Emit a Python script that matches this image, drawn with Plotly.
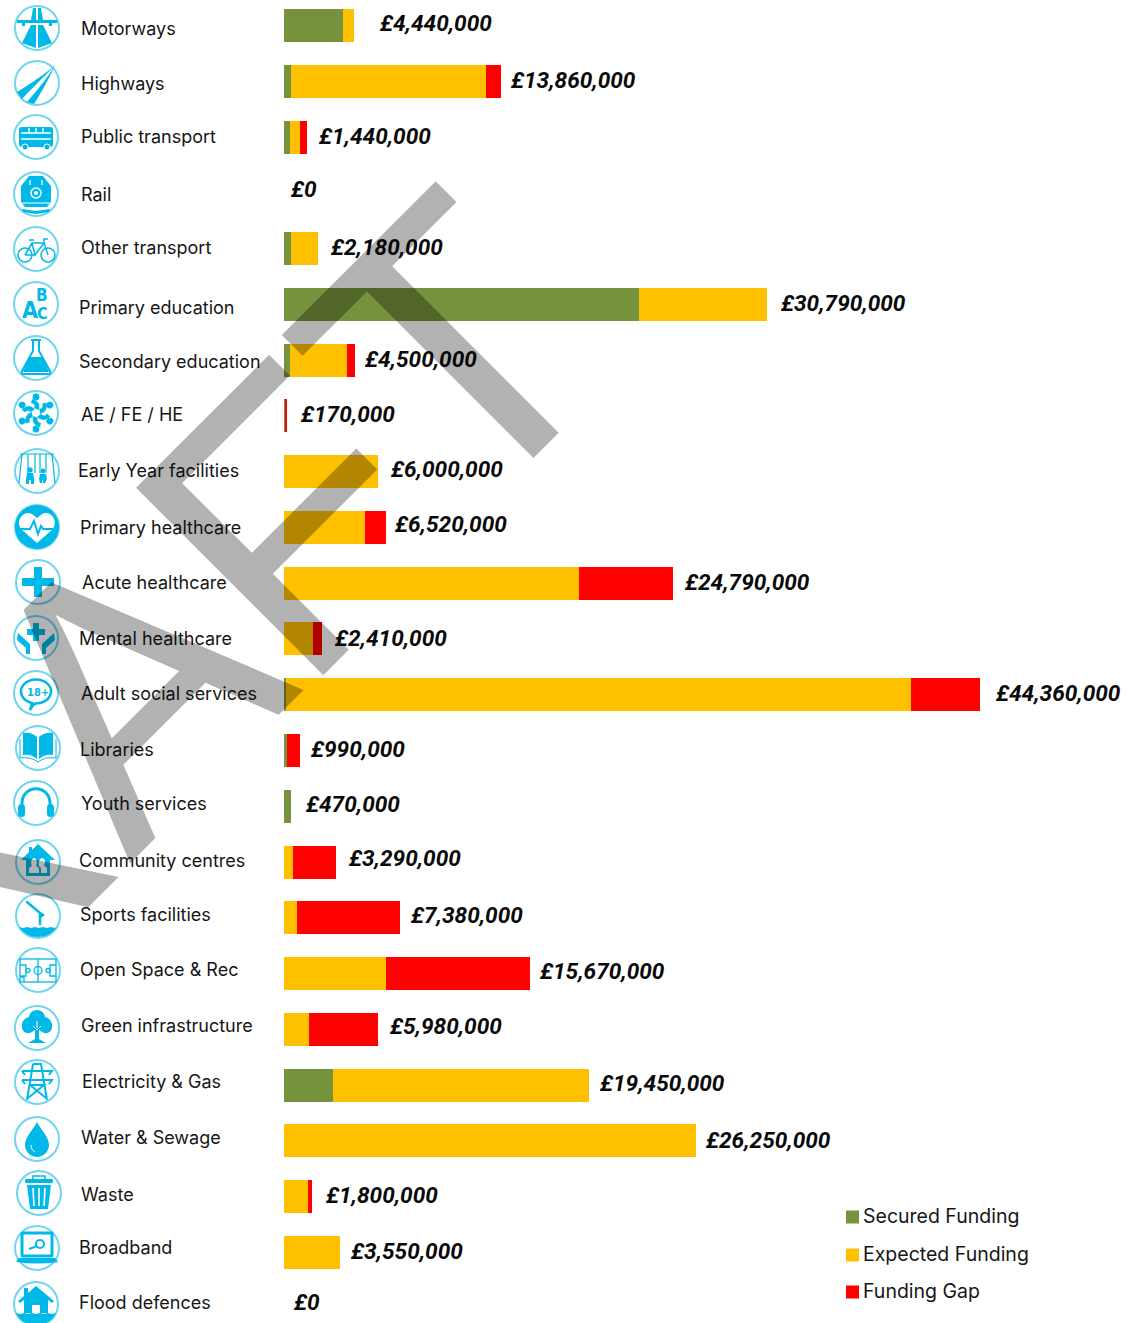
import base64
import plotly.graph_objects as go

# ---------- data ----------
categories = ["Motorways", "Highways", "Public transport", "Rail", "Other transport",
              "Primary education", "Secondary education", "AE / FE / HE", "Early Year facilities",
              "Primary healthcare", "Acute healthcare", "Mental healthcare", "Adult social services",
              "Libraries", "Youth services", "Community centres", "Sports facilities",
              "Open Space & Rec", "Green infrastructure", "Electricity & Gas", "Water & Sewage",
              "Waste", "Broadband", "Flood defences"]
secured = [3760000, 450000, 380000, 0, 420000, 22630000, 380000, 80000, 0, 0, 0, 0, 100000,
           200000, 470000, 0, 0, 0, 0, 3120000, 0, 0, 0, 0]
expected = [680000, 12410000, 640000, 0, 1760000, 8160000, 3630000, 0, 6000000, 5160000,
            18800000, 1850000, 39860000, 0, 0, 550000, 860000, 6500000, 1600000, 16330000,
            26250000, 1550000, 3550000, 0]
gap = [0, 1000000, 420000, 0, 0, 0, 490000, 90000, 0, 1360000, 5990000, 560000, 4400000,
       790000, 0, 2740000, 6520000, 9170000, 4380000, 0, 0, 250000, 0, 0]
series_names = ["Secured Funding", "Expected Funding", "Funding Gap"]
series_colors = ["#76923C", "#FFC000", "#FF0000"]

# ---------- layout helpers (pixels on the 1144x1323 page) ----------
W, H = 1144, 1323
PX_PER_POUND = 696 / 44360000
X0 = 284
ROW0, ROW = 25.5, 55.77
value_shift = [26, 10, 12, 7, 13, 14, 10, 14, 13, 9, 12, 13, 16, 11, 15, 13, 11, 10, 12, 11, 10, 14, 11, 10]
value_ypx = [23, 81, 137, 189, 247, 303, 359, 415, 469, 525, 582, 638, 693, 749, 805, 859, 915,
             971, 1027, 1083, 1140, 1195, 1251, 1302]
label_xpx = [81, 81, 81, 81, 81, 79, 79, 81, 78, 80, 82, 79, 81, 80, 81, 79, 80, 80, 81, 82, 81, 81, 79, 79]
label_ypx = [28, 83, 137, 194, 248, 307, 361, 414, 470, 527, 582, 638, 693, 749, 803, 860, 915,
             969, 1025, 1081, 1137, 1194, 1247, 1302]
icon_xpx = [37, 37, 36, 36, 36, 36, 36, 36, 37, 37, 38, 36, 36, 38, 36, 38, 38, 38, 37, 37, 37, 39, 37, 36]
icon_ypx = [28, 83, 137, 194, 249, 304, 358, 413, 471, 527, 582, 638, 693, 748, 803, 862, 916, 970,
            1028, 1082, 1139, 1193, 1248, 1304]

C = "#00B9E8"
RING = "#6FD6EF"
ICONS = {
 "Motorways": f'<path fill="{C}" d="M-6,-3H-1V20L-15,15Z M6,-3H1V20L15,15Z M-4,-20H-1V-8H-6Z M4,-20H1V-8H6Z"/><rect x="-20" y="-8" width="40" height="3" fill="{C}"/><rect x="-15" y="-5" width="3" height="3" fill="{C}"/><rect x="12" y="-5" width="3" height="3" fill="{C}"/>',
 "Highways": f'<path fill="{C}" d="M18,-18C8,-9 -8,2 -20,9L-15,16C-7,7 4,-3 18,-18Z M18,-18C10,-4 0,7 -10,19L-3,21C5,8 12,-4 18,-18Z"/>',
 "Public transport": f'<rect x="-17" y="-10" width="34" height="20" rx="3" fill="{C}"/><path stroke="#fff" stroke-width="1.4" d="M-15,-4H15M-15,2H15M-7,-9V-4M0,-9V-4M7,-9V-4"/><circle cx="-11" cy="10" r="3" fill="{C}" stroke="#fff"/><circle cx="11" cy="10" r="3" fill="{C}" stroke="#fff"/>',
 "Rail": f'<path fill="{C}" d="M-7,-18H7L15,-8V8L11,13H-11L-15,8V-8Z"/><path fill="{C}" d="M-14,15L0,17L14,15L13,18L0,20L-13,18Z"/><circle r="5" cy="-1" fill="none" stroke="#fff" stroke-width="1.5"/><circle r="2" cy="-1" fill="#fff"/><path stroke="#fff" stroke-width="1.2" d="M-6,-14V-9M6,-14V-9M-14,9H14"/>',
 "Other transport": f'<g fill="none" stroke="{C}" stroke-width="1.5"><circle cx="-11" cy="6" r="7"/><circle cx="12" cy="6" r="7"/><path d="M-11,6L-4,-6H8L12,6M-4,-6L-1,6L8,-6M-1,6H-11M-7,-9H-2M8,-6V-10H12"/></g>',
 "Primary education": "",
 "Secondary education": f'<path fill="none" stroke="{C}" stroke-width="2" d="M-5,-18H5M-3,-18V-7L-14,13Q-15,16 -12,16H12Q15,16 14,13L3,-7V-18"/><path fill="{C}" d="M-7,-1H7L13,14H-13Z"/>',
 "AE / FE / HE": ''.join(f'<g transform="rotate({a})"><circle cy="-16" r="3.4" fill="{C}"/><path fill="{C}" d="M-4,-14Q5,-12 3,-3L-2,-5Q0,-9 -5,-10Z"/></g>' for a in range(0, 360, 60)),
 "Early Year facilities": f'<path fill="none" stroke="{C}" stroke-width="1.2" d="M-17,-17H17M-15,-17L-18,12M15,-17L18,12M-9,-17V2M-2,-17V2M3,-17V2M9,-17V2"/><circle cx="-7" cy="-1" r="2.7" fill="{C}"/><path fill="{C}" d="M-10,2H-4L-3,8L-3,13H-6V9H-8V13H-11V8Z"/><circle cx="6" cy="0" r="2.4" fill="{C}"/><path fill="{C}" d="M3,3H9L10,8L8,12H6V9H5V12H3L2,8Z"/>',
 "Primary healthcare": f'<circle r="22" fill="{C}"/><path fill="#fff" d="M0,16L-16,2C-22,-8 -12,-17 -5,-13L0,-9L5,-13C12,-17 22,-8 16,2Z"/><path fill="none" stroke="{C}" stroke-width="2" d="M-17,2H-7L-3,-6L1,7L4,-1L6,2H17"/>',
 "Acute healthcare": f'<path fill="{C}" d="M-4,-15H4V-4H16V4H4V15H-4V4H-16V-4H-4Z"/>',
 "Mental healthcare": f'<path fill="{C}" d="M-3,-15H3V-9H9V-3H3V3H-3V-3H-9V-9H-3Z"/><path fill="{C}" d="M-18,-5L-6,6V16H-10L-10,10L-19,2Z M18,-5L6,6V16H10L10,10L19,2Z"/>',
 "Adult social services": f'<path fill="none" stroke="{C}" stroke-width="2.5" d="M-4,12A15,12 0 1 1 4,12Q-1,12 -3,14L-6,19Z" transform="translate(0,-2)"/>',
 "Libraries": f'<path fill="{C}" d="M-1,11C-5,7 -10,6 -15,7V-15C-9,-16 -4,-14 -1,-11Z M1,11C5,7 10,6 15,7V-15C9,-16 4,-14 1,-11Z"/><path fill="none" stroke="{C}" stroke-width="1" d="M-18,-9V10C-10,9 -4,11 0,14C4,11 10,9 18,10V-9"/>',
 "Youth services": f'<path fill="none" stroke="{C}" stroke-width="3" d="M-14,3C-16,-20 16,-20 14,3"/><rect x="-18" y="1" width="7" height="13" rx="3.5" fill="{C}"/><rect x="11" y="1" width="7" height="13" rx="3.5" fill="{C}"/>',
 "Community centres": f'<path fill="{C}" d="M0,-18L17,-2H12V14H-12V-2H-17L-9,-10V-15H-6V-12Z"/><path fill="#fff" d="M-9,11V7C-9,5 -7,5 -6,4C-8,0 -6,-4 -4,-4C-2,-4 0,0 -2,4C-1,5 1,5 1,7V11Z M3,11V7C3,5 1,4 1,4C0,0 2,-4 4,-4C7,-4 8,0 6,4C8,5 9,5 9,7V11Z"/>',
 "Sports facilities": f'<path fill="none" stroke="{C}" stroke-width="2.5" stroke-linecap="round" d="M-11,-14L2,-3V8"/><path fill="{C}" d="M3,-4L7,-1L3,2Z"/><path fill="{C}" d="M-19,11L-15,12L-11,11L-7,12L-3,11L1,12L5,11L9,12L13,11L17,12L19,11Q12,21 0,21Q-12,21 -19,11Z"/>',
 "Open Space & Rec": f'<g fill="none" stroke="{C}" stroke-width="1.3"><rect x="-18" y="-11" width="36" height="23"/><path d="M0,-11V12M-18,-5H-12V6H-18M18,-5H12V6H18M-18,7H-14V12"/><circle r="4" cy="0.5"/><circle cx="-10" cy="0.5" r="2"/><circle cx="10" cy="0.5" r="2"/></g>',
 "Green infrastructure": f'<path fill="{C}" d="M0,-18C5,-18 8,-14 8,-11C13,-10 16,-5 15,-1C15,3 11,6 7,5L2,2V11L9,15H-9L-2,11V2L-7,5C-11,6 -15,3 -15,-1C-16,-5 -13,-10 -8,-11C-8,-14 -5,-18 0,-18Z"/><path stroke="#fff" stroke-width="1" d="M0,0V-7M0,2L-4,-2M0,2L4,-2"/>',
 "Electricity & Gas": f'<path fill="none" stroke="{C}" stroke-width="2" d="M-4,-18H4L10,18M-4,-18L-10,18M-15,-11H15L12,-7M-15,-11L-12,-7M-15,-2H15L12,2M-15,-2L-12,2M-7,3H7L-9,16M-7,3L9,16"/>',
 "Water & Sewage": f'<path fill="{C}" d="M0,-17C4,-9 12,-2 12,6C12,13 6,18 0,18C-6,18 -12,13 -12,6C-12,-2 -4,-9 0,-17Z"/><path fill="none" stroke="#fff" stroke-width="1" d="M-6,6C-6,10 -4,12 -2,13"/>',
 "Waste": f'<path fill="none" stroke="{C}" stroke-width="1.6" d="M-6,-14V-17H6V-14"/><rect x="-14" y="-14" width="28" height="4" rx="1" fill="{C}"/><path fill="{C}" d="M-12,-8H12L9,16H-9Z"/><path stroke="#fff" stroke-width="1.6" d="M-6,-5L-5,13M0,-5V13M6,-5L5,13"/>',
 "Broadband": f'<rect x="-15" y="-15" width="30" height="23" rx="1" fill="none" stroke="{C}" stroke-width="3"/><path fill="{C}" d="M-18,10H18L21,14Q0,17 -21,14Z"/><circle cx="3" cy="-4" r="4" fill="none" stroke="{C}" stroke-width="2"/><path stroke="{C}" stroke-width="2" d="M0,-2L-8,1"/>',
 "Flood defences": f'<path fill="{C}" d="M0,-18L18,-3L16,-1L12,-4V9H4V1H-4V9H-12V-4L-16,-1L-18,-3L-12,-8V-16H-8V-11Z"/><path fill="{C}" d="M-20,9L-16,10L-12,9L-8,10L-4,9L0,10L4,9L8,10L12,9L16,10L20,9Q14,21 0,21Q-14,21 -20,9Z"/>',
}

def icon_uri(body):
    svg = (f'<svg xmlns="http://www.w3.org/2000/svg" viewBox="-25 -25 50 50" width="100" height="100">'
           f'<circle r="22" fill="none" stroke="{RING}" stroke-width="2"/>{body}</svg>')
    return "data:image/svg+xml;base64," + base64.b64encode(svg.encode()).decode()

fig = go.Figure()
for name, color, vals in zip(series_names, series_colors, [secured, expected, gap]):
    fig.add_trace(go.Bar(y=categories, x=vals, name=name, orientation="h",
                         marker=dict(color=color, line=dict(width=0)), showlegend=False))

annotations = []
images = []
for i, cat in enumerate(categories):
    total = secured[i] + expected[i] + gap[i]
    row_px = ROW0 + ROW * i
    annotations.append(dict(x=total, y=cat, xref="x", yref="y", text=f"<b><i>£{total:,}</i></b>",
                            showarrow=False, xanchor="left", yanchor="middle",
                            xshift=value_shift[i] - 3, yshift=row_px - value_ypx[i],
                            font=dict(family="Roboto", size=22.6, color="#0a0a0a")))
    annotations.append(dict(x=label_xpx[i] / W, y=1 - label_ypx[i] / H, xref="paper", yref="paper",
                            text=cat.replace("&", "&amp;"), showarrow=False, xanchor="left", yanchor="middle",
                            xshift=-2, font=dict(family="Inter", size=18, color="#161616")))
    images.append(dict(source=icon_uri(ICONS[cat]), xref="paper", yref="paper",
                       x=icon_xpx[i] / W, y=1 - icon_ypx[i] / H, sizex=50 / W, sizey=50 / H,
                       xanchor="center", yanchor="middle", sizing="stretch", layer="above"))

# text inside two icons
def icon_text(cx, cy, txt, size, angle=0):
    annotations.append(dict(x=cx / W, y=1 - cy / H, xref="paper", yref="paper", text=f"<b>{txt}</b>",
                            showarrow=False, textangle=angle, xanchor="center", yanchor="middle",
                            font=dict(family="DejaVu Sans Condensed, DejaVu Sans", size=size, color=C)))
icon_text(30, 310, "A", 23); icon_text(42, 295, "B", 17); icon_text(42, 313, "C", 16)
icon_text(38, 692, "18+", 11)

# legend, hand placed to match the tight swatch-to-text gap
shapes = []
for name, color, py in zip(series_names, series_colors, [1217, 1255, 1292]):
    shapes.append(dict(type="rect", xref="paper", yref="paper", x0=846 / W, x1=859 / W,
                       y0=1 - (py - 6.5) / H, y1=1 - (py + 6.5) / H, fillcolor=color, line=dict(width=0)))
    annotations.append(dict(x=863 / W, y=1 - (py - 1) / H, xref="paper", yref="paper", text=name, showarrow=False,
                            xanchor="left", yanchor="middle", xshift=-2,
                            font=dict(family="Inter", size=19.5, color="#161616")))

# DRAFT watermark (over everything), letter by letter; the D falls outside the page
WM = "rgba(0,0,0,0.30)"
for ch, cx, cy, size in [("R", -69, 868, 400), ("A", 126, 685, 370), ("F", 289, 520, 385), ("T", 451, 351, 385)]:
    annotations.append(dict(x=cx / W, y=1 - cy / H, xref="paper", yref="paper", text=ch, showarrow=False,
                            xanchor="center", yanchor="middle",
                            textangle=-45, font=dict(family="Liberation Sans", size=size, color=WM)))

fig.update_layout(
    width=W, height=H, autosize=False, margin=dict(l=0, r=0, t=0, b=0),
    paper_bgcolor="white", plot_bgcolor="white", barmode="stack", bargap=1 - 33 / ROW,
    showlegend=False,
    xaxis=dict(visible=False, range=[-X0 / PX_PER_POUND, (W - X0) / PX_PER_POUND], fixedrange=True),
    yaxis=dict(visible=False, type="category", categoryorder="array", categoryarray=categories,
               range=[(H - ROW0) / ROW, -ROW0 / ROW], fixedrange=True),
    annotations=annotations, shapes=shapes, images=images,
)
fig.write_html("out.html", config=dict(displayModeBar=False),
               post_script="document.body.style.margin='0';document.body.style.overflow='hidden';")
